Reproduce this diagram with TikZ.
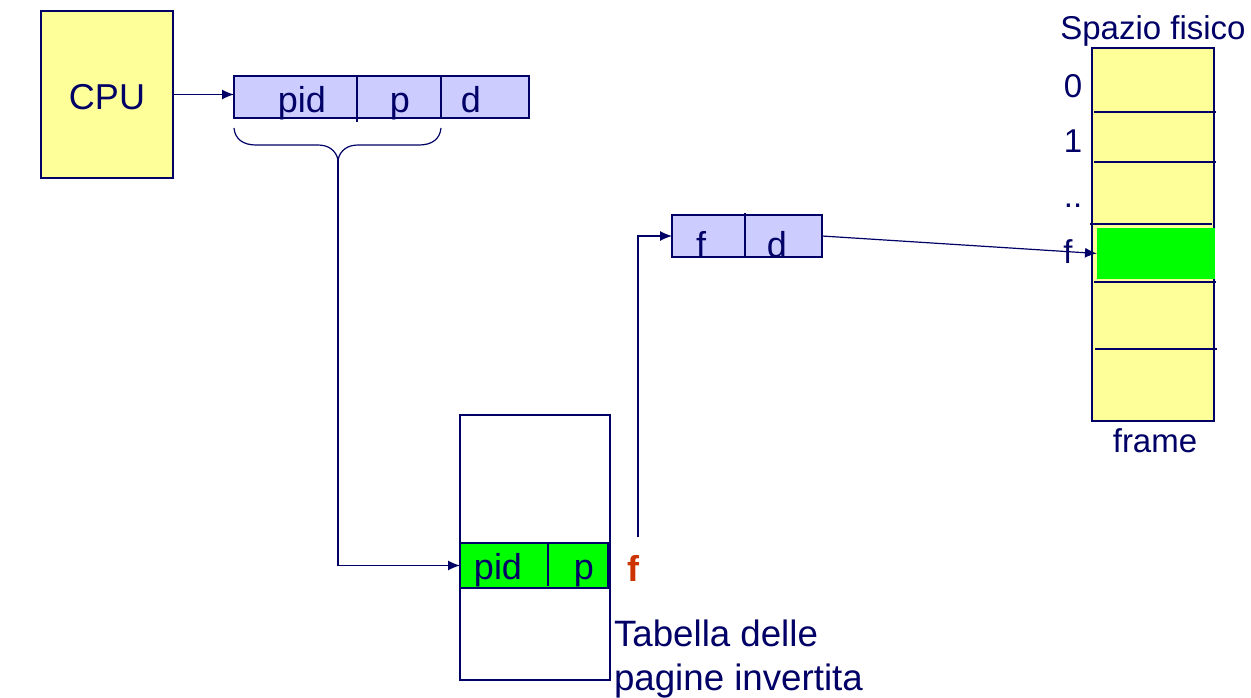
\documentclass[tikz,border=0pt]{standalone}
\usepackage{fontspec}
\setmainfont{Liberation Sans}
\usetikzlibrary{calc,arrows.meta}
\definecolor{navy}{HTML}{000066}
\definecolor{paleyellow}{HTML}{FFFF99}
\definecolor{paleblue}{HTML}{CCCCFF}
\definecolor{fred}{HTML}{CC3300}
\begin{document}
\begin{tikzpicture}
[
	x=1pt, y=-1pt,
	every node/.style = {text=navy, inner sep=0pt, outer sep=0pt},
	line/.style = {draw=navy, line width=1.2pt},
	arrow/.style = {line, -{Latex[length=12pt,width=10pt]}},
	box/.style = {line, minimum width=#1, anchor=north west},
	label/.style = {font=\fontsize{36}{36}\selectfont, anchor=base},
	small/.style = {font=\fontsize{33}{33}\selectfont, anchor=base},
]
\useasboundingbox (0,0) rectangle (1251,697);

\node[box=132pt, fill=paleyellow, minimum height=167pt] (cpu) at (41,11) {};
\node[box=295pt, fill=paleblue, minimum height=42pt] (addr) at (234,76) {};
\node[box=150pt, fill=paleblue, minimum height=42pt] (phys) at (672,215) {};
\node[box=150pt, minimum height=265pt] (table) at (460,415) {};
\node[box=148pt, fill=green, minimum height=45pt] (row) at (460,543) {};
\node[box=122pt, fill=paleyellow, minimum height=373pt] (mem) at (1092,48) {};
\node[fill=green, minimum width=118pt, minimum height=51pt, anchor=north west] (frameF) at (1097,228) {};

% dividers
\draw[line] (357,76) -- (357,122);
\draw[line] (441,76) -- (441,118);
\draw[line] (745,213) -- (745,257);
\draw[line] (548,543) -- (548,586);
\foreach \y/\a/\b in {112/1094/1216,162/1094/1216,224/1090/1212,282/1094/1216,349/1095/1217}
\draw[line] (\a,\y) -- (\b,\y);

% labels
\node[label] (cpuText) at (107,109) {CPU};
\node[label] (addrPid) at (302,112) {pid};
\node[label] (addrP) at (400,112) {p};
\node[label] (addrD) at (471,112) {d};
\node[label] (physF) at (701,257) {f};
\node[label] (physD) at (777,257) {d};
\node[label] (rowPid) at (498,579) {pid};
\node[label] (rowP) at (584,579) {p};
\node[label, text=fred, font=\fontsize{36}{36}\selectfont\bfseries] (rowF) at (633,581) {f};
\node[small] (spazio) at (1153,39) {Spazio fisico};
\node[small] (frameText) at (1155,452) {frame};
\foreach \t/\x/\y in {0/1073/97,1/1073/152,../1073/207,f/1068/263}
\node[small] at (\x,\y) {\t};
\node[label, anchor=base west, font=\fontsize{36.7}{37}\selectfont] (tabella) at (614,646) {Tabella delle};
\node[label, anchor=base west, font=\fontsize{36.7}{37}\selectfont] (pagine) at (614,690) {pagine invertita};

% connectors
\coordinate (braceL) at (234,128);
\coordinate (braceR) at (441,128);
\coordinate (braceTip) at (338,160);
\coordinate (fTail) at (638,537);
\draw[arrow] (cpu.east) -- (cpu.east -| addr.west);
\draw[line] (braceL) .. controls (235,139) and (243,145) .. (256,145) -- (318,145) .. controls (328,145) and (336,150) .. (braceTip);
\draw[line] (braceR) .. controls (440,139) and (432,145) .. (419,145) -- (358,145) .. controls (348,145) and (340,150) .. (braceTip);
\draw[arrow] (braceTip) |- (row.west);
\draw[arrow] (fTail) |- (phys.west);
\draw[arrow] (phys.east) -- (frameF.west);
\end{tikzpicture}
\end{document}
